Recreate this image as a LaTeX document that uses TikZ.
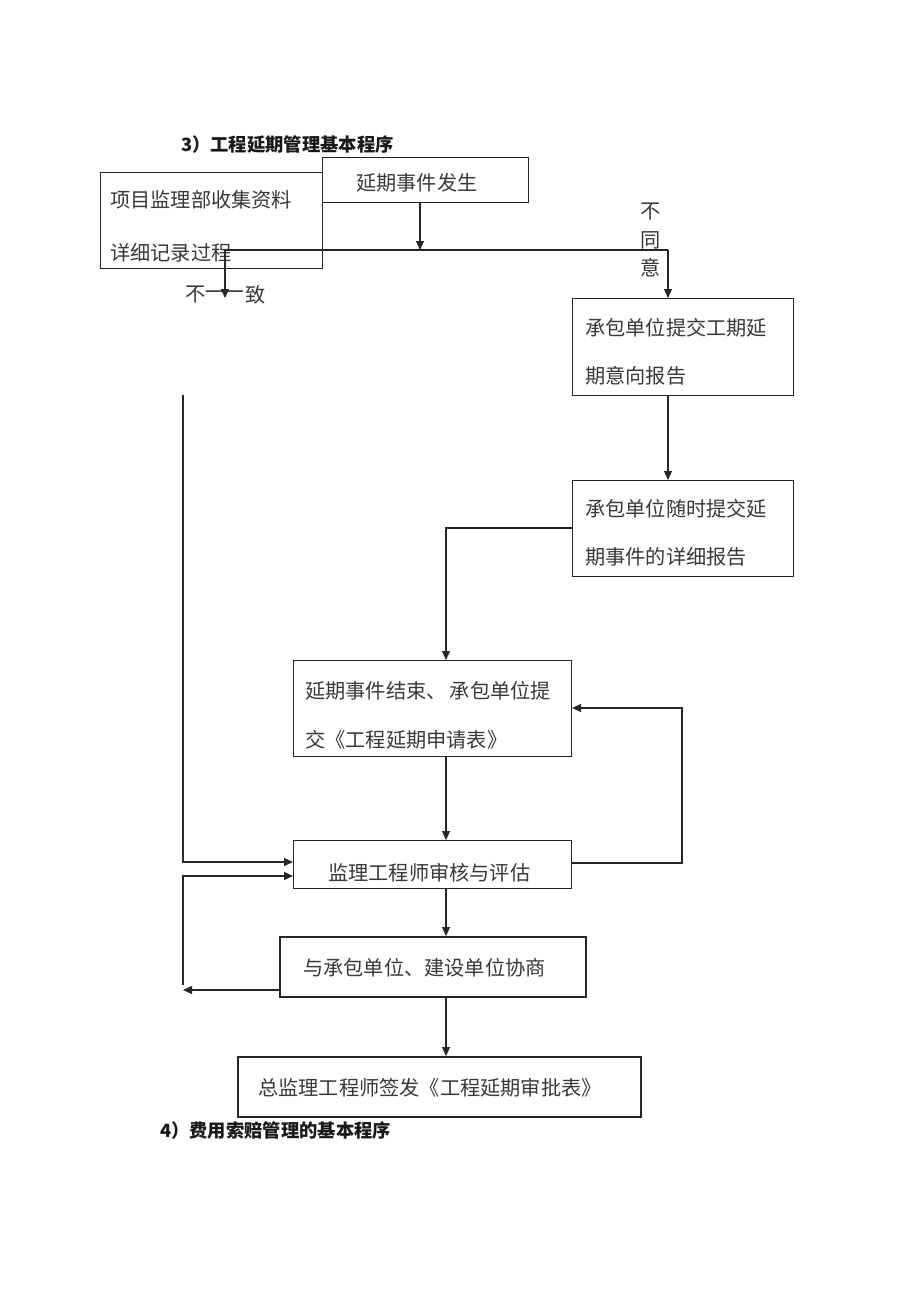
\documentclass[tikz,border=0pt]{standalone}
\usepackage{fontspec}
\setmainfont{Noto Sans CJK SC}
\usetikzlibrary{arrows.meta}
\tikzset{
  box/.style={draw=black!85, line width=1.1pt, inner sep=0pt, anchor=north west},
  boxthick/.style={box, line width=1.6pt},
  txt/.style={inner sep=0pt, anchor=west, font=\fontsize{20.2}{21}\selectfont, text=black!78},
  ttl/.style={inner sep=0pt, anchor=west, font=\bfseries\fontsize{18.3}{19}\selectfont, text=black!90},
  conn/.style={draw=black!85, line width=1.1pt},
  arr/.style={conn, -{Triangle[length=9pt,width=8pt]}}
}
\begin{document}
\begin{tikzpicture}[x=1pt,y=-1pt]
\useasboundingbox[fill=white] (0,0) rectangle (920,1303);
% titles
\node[ttl] (t3) at (181,145) {3）工程延期管理基本程序};
\node[ttl] (t4) at (160,1131) {4）费用索赔管理的基本程序};
% boxes
\node[box, minimum width=222pt, minimum height=96pt] (A) at (100,172) {};
\node[box, minimum width=206pt, minimum height=45pt] (B) at (322,157) {};
\node[box, minimum width=221pt, minimum height=97pt] (C) at (572,298) {};
\node[box, minimum width=221pt, minimum height=96pt] (D) at (572,480) {};
\node[box, minimum width=278pt, minimum height=96pt] (E) at (293,660) {};
\node[box, minimum width=278pt, minimum height=48pt] (F) at (293,840) {};
\node[boxthick, minimum width=306pt, minimum height=60pt] (G) at (279,936) {};
\node[boxthick, minimum width=403pt, minimum height=60pt] (H) at (237,1056) {};
% texts
\node[txt] (tA1) at (110,200) {项目监理部收集资料};
\node[txt] (tA2) at (110,253) {详细记录过程};
\node[txt] (tB) at (356,183) {延期事件发生};
\node[txt] (tC1) at (585,328) {承包单位提交工期延};
\node[txt] (tC2) at (585,376) {期意向报告};
\node[txt] (tD1) at (585,509) {承包单位随时提交延};
\node[txt] (tD2) at (585,557) {期事件的详细报告};
\node[txt] (tE1) at (305,691) {延期事件结束、\,承包单位提};
\node[txt] (tE2) at (305,740) {交《工程延期申请表》};
\node[txt] (tF) at (328,873) {监理工程师审核与评估};
\node[txt] (tG) at (303,968) {与承包单位、建设单位协商};
\node[txt] (tH) at (258,1088) {总监理工程师签发《工程延期审批表》};
% labels
\node[txt] (no1) at (185,295) {不};
\node[txt, anchor=center] (no2) at (225,295) {\scalebox{2}[1]{一}};
\node[txt] (no3) at (245,295) {致};
\node[txt, anchor=center] (ny1) at (651,212) {不};
\node[txt, anchor=center] (ny2) at (651,240) {同};
\node[txt, anchor=center] (ny3) at (651,268) {意};
% coordinates
\coordinate (jm) at (420,250);
\coordinate (jl) at (225,250);
\coordinate (jr) at (668,250);
\coordinate (jd) at (225,298);
\coordinate (lt) at (183,395);
\coordinate (lb) at (183,985);
\coordinate (la) at (183,990);
\coordinate (rr) at (682,863);
% connectors
\draw[arr] (B.south -| jm) -- (jm);
\draw[conn] (jl) -- (jr);
\draw[arr] (jl) -- (jd);
\draw[arr] (jr) -- (C.north -| jr);
\draw[arr] (C.south -| jr) -- (D.north -| jr);
\draw[arr] (D.west |- 0,528) -| (E.north -| 446,0);
\draw[arr] (E.south -| 446,0) -- (F.north -| 446,0);
\draw[arr] (F.east |- 0,863) -- (rr) |- (E.east |- 0,708);
\draw[arr] (lt) |- (F.west |- 0,862);
\draw[arr] (lb) |- (F.west |- 0,876);
\draw[arr] (G.west |- 0,990) -- (la);
\draw[arr] (F.south -| 446,0) -- (G.north -| 446,0);
\draw[arr] (G.south -| 446,0) -- (H.north -| 446,0);
\end{tikzpicture}
\end{document}
